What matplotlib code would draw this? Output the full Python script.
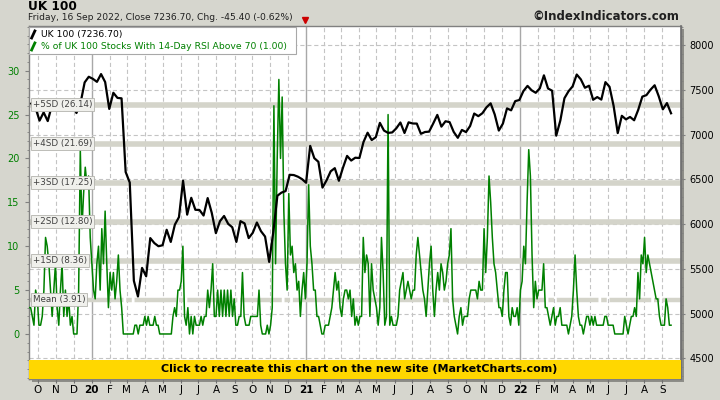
import matplotlib

matplotlib.use("Agg")
import matplotlib.pyplot as plt
import matplotlib.transforms as mtransforms
from matplotlib.lines import Line2D
from matplotlib.patches import Rectangle
from matplotlib.ticker import FixedLocator
import pandas as pd

plt.rcParams["font.family"] = ["DejaVu Sans"]
plt.rcParams["lines.scale_dashes"] = False

TITLE = "UK 100"
SUBTITLE = "Friday, 16 Sep 2022, Close 7236.70, Chg. -45.40 (-0.62%)"
BRAND = "\u00a9IndexIndicators.com"
BANNER = "Click to recreate this chart on the new site (MarketCharts.com)"
LEGEND_INDEX = "UK 100 (7236.70)"
LEGEND_BREADTH = "% of UK 100 Stocks With 14-Day RSI Above 70 (1.00)"

# weekly (Friday) closes of the UK 100
uk100 = [
    7345, 7300, 7155, 7247, 7150, 7324, 7302, 7359, 7303, 7326,
    7346, 7240, 7353, 7582, 7645, 7622, 7588, 7675, 7586, 7286,
    7466, 7409, 7404, 6581, 6463, 5366, 5191, 5510, 5416, 5843,
    5787, 5752, 5763, 5936, 5800, 5993, 6077, 6484, 6105, 6293,
    6159, 6157, 6095, 6290, 6124, 5898, 6032, 6090, 6002, 5964,
    5800, 6032, 6007, 5843, 5902, 6017, 5920, 5860, 5577, 5910,
    6316, 6351, 6368, 6550, 6547, 6529, 6502, 6461, 6873, 6736,
    6695, 6407, 6489, 6589, 6624, 6483, 6630, 6761, 6709, 6741,
    6737, 6916, 7020, 6938, 6970, 7130, 7044, 7018, 7023, 7069,
    7134, 7017, 7136, 7123, 7122, 7008, 7028, 7032, 7123, 7219,
    7088, 7148, 7138, 7029, 6963, 7051, 7027, 7095, 7234, 7205,
    7238, 7304, 7348, 7224, 7044, 7122, 7292, 7270, 7373, 7385,
    7485, 7543, 7494, 7466, 7516, 7661, 7514, 7489, 6987, 7156,
    7405, 7483, 7538, 7670, 7616, 7522, 7545, 7388, 7418, 7390,
    7585, 7533, 7318, 7016, 7209, 7169, 7196, 7159, 7276, 7423,
    7440, 7501, 7550, 7427, 7281, 7351, 7237,
]

# % of UK 100 stocks with 14-day RSI above 70, read about every 3 days
rsi70 = [
    3, 3, 2, 1, 5, 4, 1, 1, 2, 5, 11, 10, 8, 5, 2, 5, 8, 3, 1, 5,
    8, 2, 5, 2, 4, 1, 2, 0, 0, 0, 5, 21, 12, 16, 19, 17, 18, 11, 8, 5,
    4, 8, 10, 5, 12, 8, 14, 8, 3, 7, 5, 7, 4, 6, 9, 5, 3, 0, 0, 0,
    0, 0, 0, 0, 1, 1, 0, 1, 1, 1, 2, 1, 2, 1, 1, 1, 2, 1, 1, 0,
    0, 0, 0, 0, 0, 0, 0, 2, 3, 2, 5, 5, 6, 10, 2, 1, 3, 0,
    2, 0, 2, 1, 1, 1, 2, 1, 2, 2, 5, 3, 5, 8, 2, 2, 5, 2, 5, 2,
    5, 2, 5, 2, 5, 2, 4, 1, 1, 2, 2, 7, 2, 1, 1, 1, 2, 2, 2, 2,
    2, 5, 1, 0, 0, 0, 1, 0, 1, 3, 26, 8, 20, 29, 20, 27, 14, 8, 5, 16,
    9, 10, 7, 8, 5, 6, 2, 5, 7, 4, 8, 17, 10, 8, 5, 5, 2, 2, 1, 0,
    0, 1, 1, 1, 2, 3, 5, 7, 5, 6, 3, 2, 4, 5, 5, 4, 5, 2,
    4, 1, 2, 1, 2, 2, 11, 7, 9, 8, 2, 8, 5, 4, 3, 1, 3, 11, 7, 1,
    2, 25, 1, 2, 1, 1, 1, 2, 5, 6, 7, 4, 5, 6, 5, 4, 5, 5, 9, 11,
    9, 7, 5, 4, 2, 5, 8, 10, 5, 2, 5, 7, 5, 8, 7, 5, 6, 8, 9, 12,
    4, 2, 1, 0, 2, 3, 1, 2, 2, 2, 4, 5, 5, 5, 5, 4, 6, 5, 5, 12,
    7, 11, 18, 15, 11, 8, 7, 5, 3, 3, 2, 5, 7, 7, 2, 1, 3, 2,
    2, 3, 1, 5, 6, 10, 8, 15, 21, 18, 9, 3, 6, 4, 5, 5, 5, 8, 3, 3,
    2, 1, 2, 3, 1, 2, 2, 3, 1, 1, 1, 1, 0, 1, 2, 5, 9, 5, 2, 1,
    1, 0, 1, 2, 2, 1, 2, 1, 2, 1, 1, 1, 1, 1, 2, 2, 1, 1, 1, 1,
    0, 0, 0, 0, 0, 0, 2, 1, 0, 1, 2, 2, 3, 2, 7, 4, 9, 8, 11, 7,
    9, 8, 7, 6, 5, 4, 4, 2, 1, 1, 1, 4, 3, 1, 1,
]

band_names = ["Mean", "+1SD", "+2SD", "+3SD", "+4SD", "+5SD"]
band_levels = [3.91, 8.36, 12.80, 17.25, 21.69, 26.14]

month_letters = ["J", "F", "M", "A", "M", "J", "J", "A", "S", "O", "N", "D"]
left_ticks = [0, 5, 10, 15, 20, 25, 30]
right_ticks = [4500, 5000, 5500, 6000, 6500, 7000, 7500, 8000]

uk_dates = pd.date_range("2019-09-20", "2022-09-16", freq="W-FRI")
rsi_dates = pd.date_range("2019-09-16", "2022-09-16", periods=len(rsi70))
month_starts = pd.date_range("2019-10-01", "2022-09-01", freq="MS")

BG = "#d6d6ce"
GREEN = "#008000"
BAND = "#d4d4ca"
GRID = "#c4c4c4"

fig = plt.figure(figsize=(7.2, 4.0), dpi=100, facecolor=BG)
ax = fig.add_axes([29 / 720, 21 / 400, 652 / 720, 353 / 400])
ax2 = ax.twinx()

# drop shadow of the plot frame
fig.patches.append(Rectangle((32 / 720, 18 / 400), 652 / 720, 353 / 400,
                             transform=fig.transFigure, fc="#8e8e88", ec="none", zorder=-1))

ax.set_xlim(pd.Timestamp("2019-09-16"), pd.Timestamp("2022-10-03"))
ax.set_ylim(-5.13, 35.09)
ax2.set_ylim(4269, 8212)

# grid
for d in month_starts:
    if d.month == 1:
        ax.axvline(d, color="#a8a8a8", lw=1.0, zorder=1)
    else:
        ax.axvline(d, color=GRID, lw=0.8, ls=(0, (3, 2)), zorder=1)
htrans = mtransforms.blended_transform_factory(ax.transAxes, ax2.transData)
for v in right_ticks:
    ax.plot([0, 1], [v, v], transform=htrans, color=GRID, lw=0.8, ls=(0, (3, 2)), zorder=1)

# standard deviation bands
for name, lvl in zip(band_names, band_levels):
    if name == "Mean":
        ax.axhline(lvl, color=BAND, lw=3.2, ls=(0, (30, 2, 4, 2)), zorder=2)
    else:
        ax.axhline(lvl, color=BAND, lw=4.0, zorder=2)

ax.plot(rsi_dates, rsi70, color=GREEN, lw=1.1, zorder=3)
ax2.plot(uk_dates, uk100, color="black", lw=1.6, zorder=3)

btrans = mtransforms.blended_transform_factory(ax.transAxes, ax.transData)
for name, lvl in zip(band_names, band_levels):
    ax2.text(0.006, lvl, f"{name} ({lvl:.2f})", transform=btrans, fontsize=6.3,
             color="#404040", va="center", ha="left", zorder=11,
             bbox=dict(boxstyle="square,pad=0.2", fc="#f0f0ec", ec="#b4b4ae", lw=0.6))

# ticks
ax.yaxis.set_major_locator(FixedLocator(left_ticks))
ax.yaxis.set_minor_locator(FixedLocator(range(-5, 36)))
ax.tick_params(axis="y", which="major", colors="#808080", labelcolor=GREEN,
               labelsize=7, length=3, pad=4)
ax.tick_params(axis="y", which="minor", colors="#808080", length=1.5)
ax2.yaxis.set_major_locator(FixedLocator(right_ticks))
ax2.yaxis.set_minor_locator(FixedLocator(range(4300, 8201, 100)))
ax2.tick_params(axis="y", which="major", colors="#808080", labelcolor="black",
                labelsize=7, length=3, pad=3)
ax2.tick_params(axis="y", which="minor", colors="#808080", length=1.5)

ax.xaxis.set_major_locator(FixedLocator([matplotlib.dates.date2num(d) for d in month_starts]))
labels = [f"{d.year % 100:02d}" if d.month == 1 else month_letters[d.month - 1]
          for d in month_starts]
ax.set_xticklabels(labels)
ax.tick_params(axis="x", colors="#707070", labelcolor="black", labelsize=7.5,
               length=2.8, pad=1.3)
for lab, d in zip(ax.get_xticklabels(), month_starts):
    if d.month == 1:
        lab.set_fontweight("bold")

for s in ax.spines.values():
    s.set_color("#808080")
    s.set_linewidth(1.0)
for s in ax2.spines.values():
    s.set_visible(False)
ax2.spines["right"].set_visible(True)
ax2.spines["right"].set_color("#707070")
ax2.spines["right"].set_linewidth(1.2)

# yellow banner along the bottom of the plot
ax2.add_patch(Rectangle((0, 0), 1, 0.054, transform=ax2.transAxes,
                        fc="#ffd700", ec="none", zorder=10))
ax2.text(0.506, 0.028, BANNER, transform=ax2.transAxes, ha="center", va="center",
         fontsize=8, fontweight="bold", color="black", zorder=11)

# legend box
ax2.add_patch(Rectangle((0.0, 0.921), 0.41, 0.076, transform=ax2.transAxes,
                        fc="white", ec="#a8a8a8", lw=0.8, zorder=12))
ax2.add_line(Line2D([0.004, 0.009], [0.966, 0.986], transform=ax2.transAxes,
                    color="black", lw=2, zorder=13))
ax2.add_line(Line2D([0.004, 0.009], [0.932, 0.952], transform=ax2.transAxes,
                    color=GREEN, lw=2, zorder=13))
ax2.text(0.018, 0.977, LEGEND_INDEX, transform=ax2.transAxes, fontsize=6.7,
         color="black", va="center", zorder=13)
ax2.text(0.018, 0.943, LEGEND_BREADTH, transform=ax2.transAxes, fontsize=6.7,
         color=GREEN, va="center", zorder=13)

# header texts
fig.text(28 / 720, 1 - 7 / 400, TITLE, fontsize=8.7, fontweight="bold", va="center")
fig.text(28 / 720, 1 - 18 / 400, SUBTITLE, fontsize=6.6, va="center", color="#202020")
fig.add_artist(Line2D([305 / 720], [1 - 20 / 400], transform=fig.transFigure,
                      marker="v", color="#cc0000", markersize=5, ls="none"))
fig.text(679 / 720, 1 - 17 / 400, BRAND, fontsize=8.5, fontweight="bold",
         ha="right", va="center", color="#202020")

fig.savefig("out.png", dpi=100, facecolor=BG)
